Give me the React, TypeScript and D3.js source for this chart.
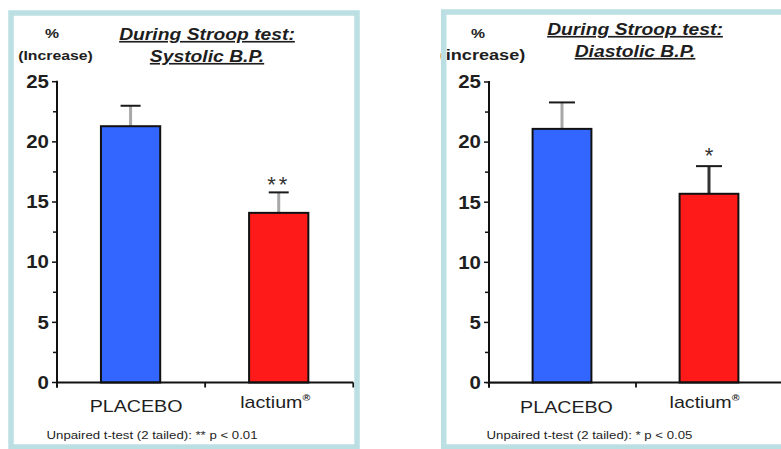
import React from "react";
import * as d3 from "d3";

const categories = ["PLACEBO", "lactium"];
const systolicValues = [21.3, 14.1];
const systolicErrors = [1.7, 1.7];
const diastolicValues = [21.1, 15.7];
const diastolicErrors = [2.2, 2.3];
const yTicks = [0, 5, 10, 15, 20, 25];
const yMinorTicks = [2.5, 7.5, 12.5, 17.5, 22.5];
const barColors = ["#3366ff", "#ff1a1a"];
const systolicStars = ["", "**"];
const diastolicStars = ["", "*"];

const SX = 1.17;
const INK = "#1e1e1e";
const FONT = "'Liberation Sans', Arial, sans-serif";

function Txt({ x, y, size, anchor = "middle", weight = "normal", italic = false, underline = false, fill = INK, children, sx = SX }: any) {
  return (
    <text
      transform={`translate(${x},${y}) scale(${sx},1)`}
      fontSize={size}
      fontFamily={FONT}
      fontWeight={weight}
      fontStyle={italic ? "italic" : "normal"}
      textAnchor={anchor}
      fill={fill}
      style={underline ? { textDecoration: "underline" } : undefined}
    >
      {children}
    </text>
  );
}

function Panel({ p }: any) {
  const y = d3.scaleLinear().domain([0, 25]).range([382.5, p.yTop]);
  const x = d3.scaleBand<string>().domain(categories).range([p.axisX, p.axisX + p.step * 2]).paddingInner(0).paddingOuter(0);
  const bw = x.bandwidth() * 0.4;
  return (
    <g>
      {/* y label */}
      <Txt x={p.pctX} y={38} size={13.5} weight="bold">%</Txt>
      <Txt x={p.incX} y={60} size={p.incSize} weight="bold">{p.incText}</Txt>
      {/* title */}
      <Txt x={p.titleX} y={p.titleY1} size={16.5} weight="bold" italic underline>During Stroop test:</Txt>
      <Txt x={p.titleX} y={p.titleY1 + 22} size={16.5} weight="bold" italic underline>{p.subtitle}</Txt>
      {p.zeroLine && (
        <line x1={p.axisX - 3} x2={p.axisX + 45} y1={y(0) + 0.5} y2={y(0) + 0.5} stroke="#b0b0b0" strokeWidth={2} />
      )}
      {/* bars */}
      {categories.map((c, i) => {
        const cx = (x(c) as number) + x.bandwidth() / 2 - 0.5;
        const top = y(p.values[i]);
        const et = y(p.values[i] + p.errors[i]);
        return (
          <g key={c}>
            <line x1={cx} x2={cx} y1={top} y2={et} stroke={p.errColors[i]} strokeWidth={3} />
            <line x1={cx - p.cap / 2} x2={cx + p.cap / 2} y1={et} y2={et} stroke="#1a1a1a" strokeWidth={2} />
            <rect x={cx - bw / 2} y={top} width={bw} height={y(0) - top} fill={barColors[i]} stroke="#111" strokeWidth={2} />
            {p.stars[i] && (
              <Txt x={cx} y={et + p.starDy} size={22} sx={1} fill="#333">
                <tspan letterSpacing={p.stars[i].length > 1 ? 3 : 0}>{p.stars[i]}</tspan>
              </Txt>
            )}
          </g>
        );
      })}
      {/* y axis */}
      <line x1={p.axisX} x2={p.axisX} y1={y(25) - 1} y2={y(0) + 5} stroke="#111" strokeWidth={2} />
      {yTicks.map((t) => (
        <g key={t}>
          <line x1={p.axisX - 5} x2={p.axisX} y1={y(t)} y2={y(t)} stroke="#111" strokeWidth={1.5} />
          <Txt x={p.axisX - 8} y={y(t) + 6.3} size={17.5} weight="bold" anchor="end">{t}</Txt>
        </g>
      ))}
      {yMinorTicks.map((t) => (
        <line key={t} x1={p.axisX - 4} x2={p.axisX} y1={y(t)} y2={y(t)} stroke="#111" strokeWidth={1.5} />
      ))}
      {/* x axis */}
      <line x1={p.axisX} x2={p.axisX + p.step * 2} y1={y(0)} y2={y(0)} stroke="#111" strokeWidth={2} />
      {[0, 1, 2].map((k) => (
        <line key={k} x1={p.axisX + k * p.step} x2={p.axisX + k * p.step} y1={y(0)} y2={y(0) + 5} stroke="#111" strokeWidth={1.8} />
      ))}
      {categories.map((c, i) => {
        const cx = (x(c) as number) + x.bandwidth() / 2;
        return i === 0 ? (
          <Txt key={c} x={cx + p.lblDx[0]} y={p.lblY[0]} size={16.8}>{c}</Txt>
        ) : (
          <Txt key={c} x={cx + p.lblDx[1]} y={p.lblY[1]} size={16.8}>
            {c}
            <tspan fontSize={9} fontWeight="bold" dy={-7}>®</tspan>
          </Txt>
        );
      })}
      <Txt x={p.noteX} y={439} size={11.3} anchor="start">{p.note}</Txt>
      {/* frame */}
      <rect x={p.frame[0]} y={p.frame[1]} width={p.frame[2]} height={p.frame[3]} fill="none" stroke="#bcdfe3" strokeWidth={5.5} />
    </g>
  );
}

export default function App() {
  const left = {
    axisX: 57, step: 148.15, yTop: 81.7,
    values: systolicValues, errors: systolicErrors, stars: systolicStars,
    errColors: ["#a8a8a8", "#a8a8a8"], cap: 20, starDy: -0.5,
    pctX: 52, incX: 55.5, incSize: 13.5, incText: "(Increase)",
    titleX: 207, titleY1: 40, subtitle: "Systolic B.P.",
    lblDx: [5, -4], lblY: [411.7, 408.3],
    noteX: 46.5, note: "Unpaired t-test (2 tailed): ** p < 0.01",
    frame: [11, 13, 346, 434], zeroLine: false,
  };
  const right = {
    axisX: 489, step: 147, yTop: 82,
    values: diastolicValues, errors: diastolicErrors, stars: diastolicStars,
    errColors: ["#a8a8a8", "#333333"], cap: 26, starDy: -3,
    pctX: 478, incX: 482.5, incSize: 15.5, incText: "(increase)",
    titleX: 635, titleY1: 35, subtitle: "Diastolic B.P.",
    lblDx: [4, -5], lblY: [413.3, 408.3],
    noteX: 486.5, note: "Unpaired t-test (2 tailed): * p < 0.05",
    frame: [443.7, 12, 345, 435], zeroLine: true,
  };
  return (
    <svg width={781} height={449} style={{ position: "absolute", left: 0, top: 0, background: "#fff" }}>
      <rect width={781} height={449} fill="#fff" />
      <Panel p={left} />
      <Panel p={right} />
    </svg>
  );
}
